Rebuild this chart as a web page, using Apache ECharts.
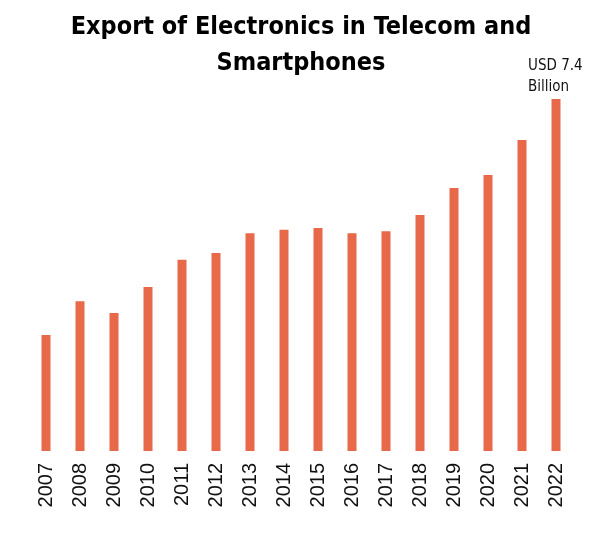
<!DOCTYPE html>
<html>
<head>
<meta charset="utf-8">
<script src="https://cdn.jsdelivr.net/npm/echarts@6/dist/echarts.min.js"></script>
<style>
  html, body { margin: 0; padding: 0; background: #fff; }
  .main { width: 600px; height: 554px; }
</style>
</head>
<body>
<div class="main"></div>
<script>
  // years on the x axis
  let years = ['2007', '2008', '2009', '2010', '2011', '2012', '2013', '2014',
               '2015', '2016', '2017', '2018', '2019', '2020', '2021', '2022'];
  // export value, USD billion
  let exports = [2.44, 3.15, 2.90, 3.45, 4.02, 4.16, 4.58, 4.65,
                 4.69, 4.58, 4.62, 4.96, 5.53, 5.80, 6.54, 7.4];
  let lastLabel = 'USD 7.4\nBillion';

  /* global echarts: true */
  let myChart = echarts.init(document.querySelector('.main'));

  // only the last bar carries a label
  let barData = exports.map((v, i) => {
    if (i !== exports.length - 1) return v;
    return {
      value: v,
      label: {
        show: true,
        position: 'top',
        distance: 1,
        align: 'left',
        offset: [-28, 0],
        formatter: lastLabel,
        color: '#111',
        fontSize: 15,
        lineHeight: 21,
        fontFamily: 'DejaVu Sans Condensed, sans-serif'
      }
    };
  });

  let option = {
    title: {
      text: 'Export of Electronics in Telecom and\nSmartphones',
      left: 296,
      top: 4,
      textAlign: 'center',
      textStyle: {
        fontFamily: 'DejaVu Sans Condensed, sans-serif',
        fontWeight: 'bold',
        fontSize: 25,
        lineHeight: 36,
        color: '#000'
      }
    },
    grid: {
      left: 29,
      right: 27,
      top: 99,
      bottom: 103
    },
    xAxis: {
      type: 'category',
      data: years,
      axisLine: { show: false },
      axisTick: { show: false },
      axisLabel: {
        rotate: 90,
        margin: 12,
        fontSize: 20,
        color: '#111',
        fontFamily: 'Liberation Sans, sans-serif'
      }
    },
    yAxis: {
      type: 'value',
      min: 0,
      max: 7.4,
      show: false,
      splitLine: { show: false }
    },
    series: [{
      name: 'Export',
      type: 'bar',
      barWidth: 9,
      data: barData,
      itemStyle: { color: '#E8684A' }
    }]
  };

  myChart.setOption(option);
</script>
</body>
</html>
